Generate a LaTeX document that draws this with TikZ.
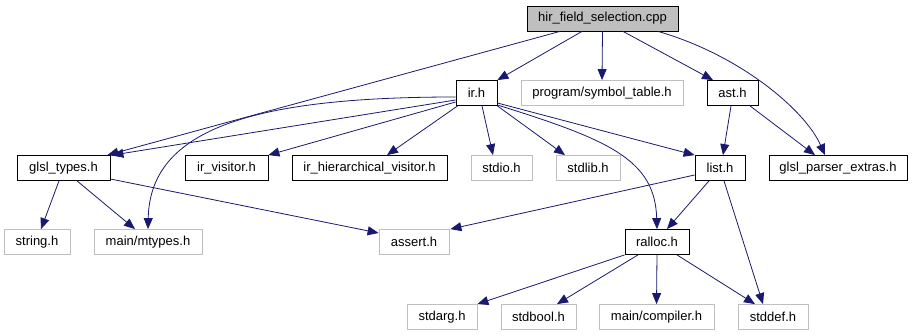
\documentclass[tikz,border=0pt]{standalone}
\usepackage{fontspec}
\setmainfont{Liberation Sans}
\usepackage{tikz}
\usetikzlibrary{arrows.meta}
\definecolor{edgeblue}{HTML}{191970}
\definecolor{undocgray}{HTML}{BFBFBF}
\newcommand{\edgecolor}{edgeblue}
\newcommand{\boxheight}{25}

\tikzset{
  file/.style={draw, rectangle, inner sep=0pt, minimum height=\boxheight, line width=0.8pt, font=\fontsize{13}{15}\selectfont},
  doc/.style={file, draw=black},
  undoc/.style={file, draw=undocgray},
  top/.style={doc, fill=undocgray},
  dep/.style={draw=\edgecolor, line width=0.8pt, -{Triangle[length=11pt,width=9pt,fill=\edgecolor]}}
}

\begin{document}
\begin{tikzpicture}[x=1pt, y=-1pt]
\useasboundingbox (0,0) rectangle (913,336);
%files
\node[top, minimum width=151] (cpp) at (602.5, 18.5) {hir\_field\_selection.cpp};
\node[doc, minimum width=41] (ir) at (476.5, 93) {ir.h};
\node[undoc, minimum width=162] (symtab) at (602, 93) {program/symbol\_table.h};
\node[doc, minimum width=51] (ast) at (732.5, 93) {ast.h};
\node[doc, minimum width=93] (glsltypes) at (63.5, 168) {glsl\_types.h};
\node[doc, minimum width=83] (irvisitor) at (226.5, 168) {ir\_visitor.h};
\node[doc, minimum width=155] (irhier) at (369.5, 168) {ir\_hierarchical\_visitor.h};
\node[undoc, minimum width=61] (stdio) at (501.5, 168) {stdio.h};
\node[undoc, minimum width=64] (stdlib) at (588, 168) {stdlib.h};
\node[doc, minimum width=50] (list) at (720, 168) {list.h};
\node[doc, minimum width=138] (parser) at (838, 168) {glsl\_parser\_extras.h};
\node[undoc, minimum width=66] (string) at (37, 242) {string.h};
\node[undoc, minimum width=108] (mtypes) at (148, 242) {main/mtypes.h};
\node[undoc, minimum width=70] (assert) at (414, 242) {assert.h};
\node[doc, minimum width=64] (ralloc) at (657, 242) {ralloc.h};
\node[undoc, minimum width=70] (stdarg) at (442, 317) {stdarg.h};
\node[undoc, minimum width=75] (stdbool) at (538.5, 317) {stdbool.h};
\node[undoc, minimum width=115] (compiler) at (656.5, 317) {main/compiler.h};
\node[undoc, minimum width=70] (stddef) at (773, 317) {stddef.h};
%hir_field_selection.cpp
\draw[dep] ([xshift=-42.5]cpp.south) -- ([xshift=-3]glsltypes.north east);
\draw[dep] ([xshift=-20.5]cpp.south) -- (ir.north east);
\draw[dep] (cpp.south) -- (symtab.north);
\draw[dep] ([xshift=20.5]cpp.south) -- ([xshift=-19.5]ast.north);
\draw[dep] ([xshift=55.5]cpp.south) .. controls (740,55) and (805,110) .. ([xshift=-13]parser.north);
%ir.h
\draw[dep] ([yshift=-7]ir.west) -- ([xshift=2]glsltypes.north east);
\draw[dep] ([yshift=-4]ir.west) .. controls (250,97) and (150,130) .. (mtypes.north);
\draw[dep] ([yshift=-9]ir.west) -- (irvisitor.north east);
\draw[dep] ([xshift=2]ir.south west) -- ([xshift=17.5]irhier.north);
\draw[dep] ([xshift=5.5]ir.south) -- ([xshift=-8.5]stdio.north);
\draw[dep] (ir.south east) -- ([xshift=-23]stdlib.north);
\draw[dep] ([yshift=-10]ir.east) -- (list.north west);
\draw[dep] ([yshift=-12]ir.east) .. controls (610,140) and (655,160) .. (ralloc.north);
%ast.h
\draw[dep] ([xshift=-1.5]ast.south) -- ([xshift=3]list.north);
\draw[dep] ([xshift=17.5]ast.south) -- ([xshift=-23]parser.north);
%glsl_types.h
\draw[dep] ([xshift=-4.5]glsltypes.south) -- ([xshift=4]string.north);
\draw[dep] ([xshift=13.5]glsltypes.south) -- ([xshift=-13]mtypes.north);
\draw[dep] ([yshift=-11]glsltypes.east) -- ([yshift=9]assert.west);
%list.h
\draw[dep] ([yshift=-7]list.west) -- ([xshift=1]assert.north east);
\draw[dep] ([xshift=-11]list.south) -- ([xshift=10]ralloc.north);
\draw[dep] ([xshift=4]list.south) -- ([xshift=-10]stddef.north);
%ralloc.h
\draw[dep] (ralloc.south west) -- (stdarg.north east);
\draw[dep] ([xshift=-19]ralloc.south) -- ([xshift=18.5]stdbool.north);
\draw[dep] (ralloc.south) -- (compiler.north);
\draw[dep] ([xshift=20]ralloc.south) -- ([xshift=-18]stddef.north);
\end{tikzpicture}
\end{document}
